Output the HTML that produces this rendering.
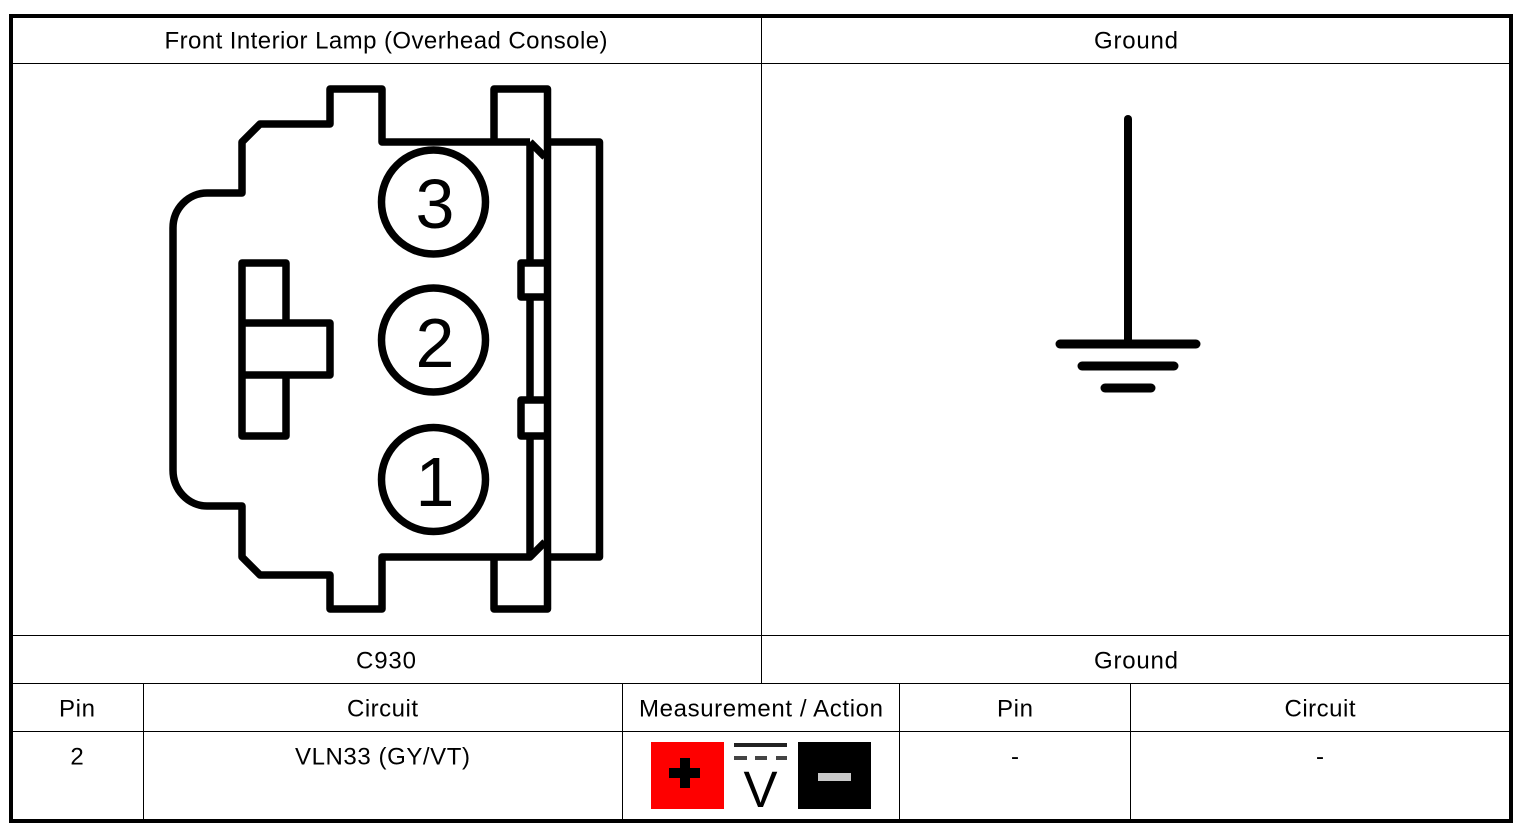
<!DOCTYPE html>
<html><head><meta charset="utf-8"><style>
html,body{margin:0;padding:0;background:#fff;width:1526px;height:830px;overflow:hidden}
svg{display:block}
text{font-family:"Liberation Sans",sans-serif;fill:#000}
.t{font-size:24px;text-anchor:middle}
.d{font-size:70px;text-anchor:middle}
</style></head><body>
<svg width="1526" height="830" viewBox="0 0 1526 830" xmlns="http://www.w3.org/2000/svg">
<rect width="1526" height="830" fill="#fff"/>
<!-- table lines -->
<g stroke="#000" stroke-width="1" shape-rendering="crispEdges">
<path d="M11 63.5H1511M11 635.5H1511M11 683.5H1511M11 731.5H1511"/>
<path d="M761.5 16V683M143.5 683V820M622.5 683V820M899.5 683V820M1130.5 683V820"/>
</g>
<rect x="11" y="16" width="1500" height="805" fill="none" stroke="#000" stroke-width="4"/>
<!-- labels -->
<text class="t" x="386" y="48.5" textLength="443" lengthAdjust="spacing">Front Interior Lamp (Overhead Console)</text>
<text class="t" x="1136" y="48.5" textLength="84" lengthAdjust="spacing">Ground</text>
<text class="t" x="386" y="668.5" textLength="60" lengthAdjust="spacing">C930</text>
<text class="t" x="1136" y="668.5" textLength="84" lengthAdjust="spacing">Ground</text>
<text class="t" x="77" y="716.5" textLength="36" lengthAdjust="spacing">Pin</text>
<text class="t" x="382.5" y="716.5" textLength="71" lengthAdjust="spacing">Circuit</text>
<text class="t" x="761" y="716.5" textLength="244" lengthAdjust="spacing">Measurement / Action</text>
<text class="t" x="1015" y="716.5" textLength="36" lengthAdjust="spacing">Pin</text>
<text class="t" x="1320" y="716.5" textLength="71" lengthAdjust="spacing">Circuit</text>
<text class="t" x="77" y="764.5">2</text>
<text class="t" x="382.5" y="764.5" textLength="175" lengthAdjust="spacing">VLN33 (GY/VT)</text>
<text class="t" x="1015" y="764.5">-</text>
<text class="t" x="1320" y="764.5">-</text>
<!-- connector -->
<g fill="none" stroke="#000" stroke-width="7.5" stroke-linejoin="round">
<path d="M530 142H382V89H330V124H260L242 142V193H207A34 35 0 0 0 173 228V470A34 36 0 0 0 207 506H242V557L260 575H330V609H382V557H530L545 542"/>
<path d="M530 142L545 157"/>
<path d="M494 142V89H547.5V609H494V557"/>
<path d="M547 142H599.5V557H547"/>
<path d="M530 142V263M530 297V400M530 436V557"/>
<path d="M547 263H521V297H547M547 400H521V436H547"/>
<path d="M286 323V263H242V436H286V375M242 323H330V375H242"/>
<circle cx="433.5" cy="202" r="52"/>
<circle cx="433.5" cy="340" r="52"/>
<circle cx="433.5" cy="479.5" r="52"/>
</g>
<text class="d" x="435" y="228">3</text>
<text class="d" x="435" y="367">2</text>
<text class="d" x="435" y="506">1</text>
<!-- ground -->
<g stroke="#000" stroke-width="9" stroke-linecap="round" fill="none">
<path d="M1128 119V344" stroke-width="8"/>
<path d="M1060 344H1196"/>
<path d="M1082 366H1174"/>
<path d="M1105 388H1151"/>
</g>
<!-- measurement icons -->
<rect x="651" y="742" width="73" height="67" fill="#fe0000"/>
<path d="M669 773H700M685 758V788" stroke="#000" stroke-width="10" stroke-linejoin="round" fill="none"/>
<rect x="798" y="742" width="73" height="67" fill="#000"/>
<rect x="818" y="773" width="33" height="8" fill="#c8c8c8"/>
<rect x="734" y="743" width="53" height="4" fill="#222"/>
<path d="M734 756h13v4h-13zM755 756h12v4h-12zM776 756h11v4h-11z" fill="#444"/>
<text x="760.5" y="807" font-size="51" text-anchor="middle">V</text>
</svg>
</body></html>
